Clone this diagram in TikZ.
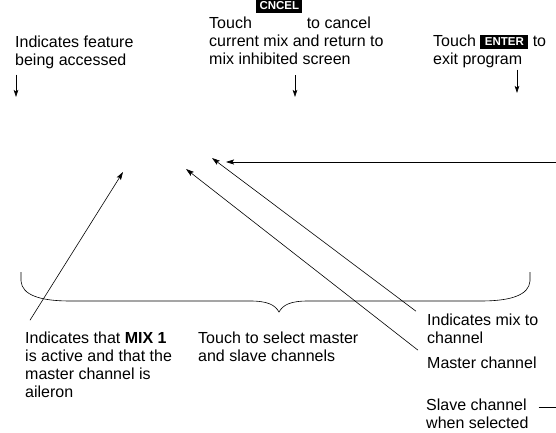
\documentclass[tikz,border=0pt]{standalone}
\usepackage{fontspec}
\setmainfont{Liberation Sans}
\usetikzlibrary{arrows.meta}
% black key label, raised by #1, inner width #2
\newcommand\keycap[3]{\raisebox{#1}{\setlength\fboxsep{3pt}\colorbox{black}{\makebox[#2][c]{\color{white}\bfseries\fontsize{11.5}{11.5}\selectfont\vphantom{X}#3}}}}
\tikzset{
  note/.style={anchor=base west, inner sep=0pt, align=left, font=\fontsize{16}{18}\selectfont},
  pointer/.style={-{Stealth[length=8pt,width=5pt,inset=1.5pt]}, line width=0.6pt},
  drop/.style={-{Stealth[length=7pt,width=4.5pt,inset=1.5pt]}, line width=0.6pt},
}
\begin{document}
\begin{tikzpicture}[x=1pt,y=-1pt]
\useasboundingbox (0,0) rectangle (556,433);
% notes along the top (base = last line)
\node[note] (feature) at (15,66) {Indicates feature\\being accessed};
\node[note] (cancel) at (209,65) {Touch \keycap{19pt}{40pt}{CNCEL} to cancel\\current mix and return to\\mix inhibited screen};
\node[note] (enter) at (433,65) {Touch \keycap{1pt}{42pt}{ENTER} to\\exit program};
\coordinate (featuretip) at (16,97); \coordinate (canceltip) at (295,97); \coordinate (entertip) at (517,93);
\draw[drop] ([yshift=-5pt]feature.south -| featuretip) -- (featuretip);
\draw[drop] ([yshift=-10pt]cancel.south -| canceltip) -- (canceltip);
\draw[drop] ([yshift=-1pt]enter.south -| entertip) -- (entertip);
% notes along the bottom
\node[note] (mixone) at (25,397) {Indicates that \textbf{MIX 1}\\is active and that the\\master channel is\\aileron};
\node[note] (select) at (198,361) {Touch to select master\\and slave channels};
\node[note] (mixto) at (427,343) {Indicates mix to\\channel};
\node[note] (master) at (427,368) {Master channel};
\node[note] (slave) at (426,428) {Slave channel\\when selected};
% brace over the channel keys
\draw[line width=0.6pt] (21,272) -- (21,281) .. controls (22,295) and (40,301) .. (70,301) -- (250,301)
  .. controls (268,301) and (275,305) .. (279,312) .. controls (283,305) and (290,301) .. (308,301)
  -- (481,301) .. controls (511,301) and (529,295) .. (530,281) -- (530,272);
% pointers into the screen
\coordinate (mixonetip) at (123,172); \coordinate (mastertip) at (186,169);
\coordinate (mixtotip) at (212,158); \coordinate (slavetip) at (226,162);
\coordinate (slaveedge) at (556,407); \coordinate (rightedge) at (556,162);
\draw[pointer] ([xshift=5pt,yshift=11pt]mixone.north west) -- (mixonetip);
\draw[pointer] ([xshift=-9pt,yshift=6pt]master.north west) -- (mastertip);
\draw[pointer] ([xshift=-11pt,yshift=2pt]mixto.north west) -- (mixtotip);
\draw[line width=0.6pt] ([xshift=10pt]slave.east |- slaveedge) -- (slaveedge);
\draw[pointer] (rightedge) -- (slavetip);
\end{tikzpicture}
\end{document}
